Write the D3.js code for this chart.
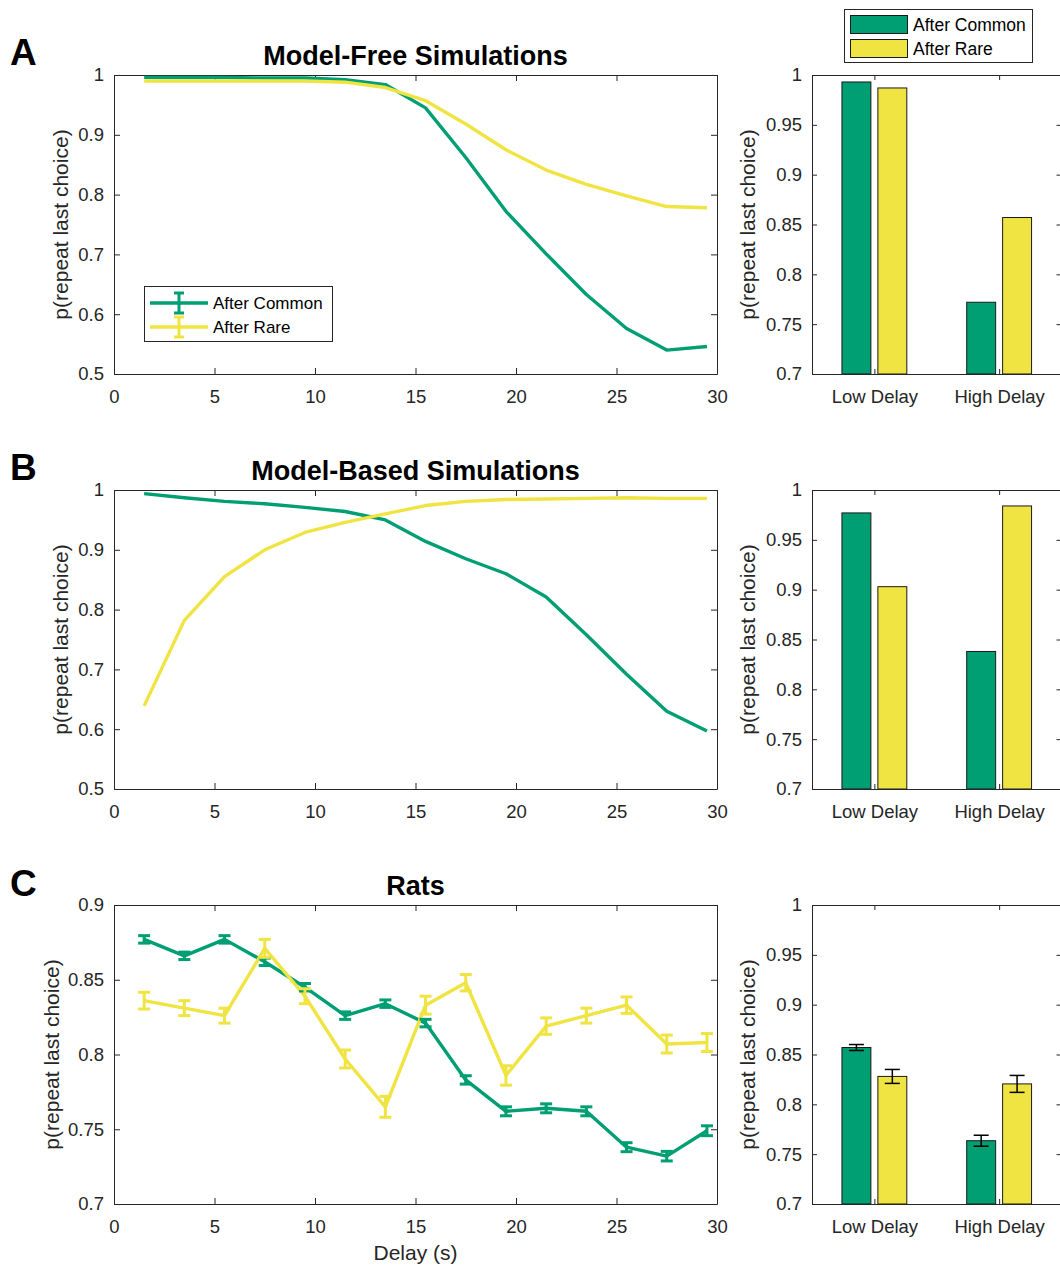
<!DOCTYPE html>
<html>
<head>
<meta charset="utf-8">
<script src="https://cdn.jsdelivr.net/npm/d3@7"></script>
<style>
  html, body { margin: 0; padding: 0; background: #fff; }
  svg { display: block; }
</style>
</head>
<body>
<script>
// ---------------- DATA ----------------
const delays = [1.5, 3.5, 5.5, 7.5, 9.5, 11.5, 13.5, 15.5, 17.5, 19.5, 21.5, 23.5, 25.5, 27.5, 29.5];

const mfCommon = [0.996, 0.996, 0.996, 0.995, 0.995, 0.992, 0.984, 0.945, 0.862, 0.772, 0.701, 0.633, 0.576, 0.540, 0.546];
const mfRare   = [0.990, 0.990, 0.990, 0.990, 0.990, 0.988, 0.979, 0.957, 0.918, 0.875, 0.841, 0.817, 0.798, 0.780, 0.778];

const mbCommon = [0.994, 0.987, 0.981, 0.977, 0.971, 0.964, 0.950, 0.914, 0.885, 0.860, 0.821, 0.758, 0.692, 0.630, 0.597];
const mbRare   = [0.639, 0.782, 0.855, 0.900, 0.929, 0.946, 0.960, 0.974, 0.981, 0.984, 0.985, 0.986, 0.987, 0.986, 0.986];

const ratCommon    = [0.877, 0.866, 0.877, 0.862, 0.845, 0.826, 0.834, 0.821, 0.783, 0.762, 0.764, 0.762, 0.738, 0.732, 0.749];
const ratCommonErr = [0.0025, 0.0025, 0.0025, 0.0025, 0.0025, 0.0025, 0.0025, 0.0025, 0.0028, 0.003, 0.003, 0.003, 0.003, 0.0032, 0.0033];
const ratRare      = [0.836, 0.831, 0.826, 0.871, 0.839, 0.797, 0.765, 0.833, 0.848, 0.786, 0.819, 0.826, 0.833, 0.807, 0.808];
const ratRareErr   = [0.0056, 0.005, 0.005, 0.006, 0.005, 0.006, 0.007, 0.006, 0.0055, 0.0065, 0.0055, 0.005, 0.0055, 0.006, 0.006];

const barCategories = ["Low Delay", "High Delay"];
const mfBarCommon = [0.993, 0.772];
const mfBarRare   = [0.987, 0.857];
const mbBarCommon = [0.977, 0.838];
const mbBarRare   = [0.903, 0.984];
const ratBarCommon    = [0.857, 0.7635];
const ratBarCommonErr = [0.003, 0.0055];
const ratBarRare      = [0.828, 0.8205];
const ratBarRareErr   = [0.007, 0.0085];

const seriesNames = ["After Common", "After Rare"];
const panelLetters = ["A", "B", "C"];
const panelTitles = ["Model-Free Simulations", "Model-Based Simulations", "Rats"];
const xTicks = [0, 5, 10, 15, 20, 25, 30];
const yTicksSim = [0.5, 0.6, 0.7, 0.8, 0.9, 1];
const yTicksRat = [0.7, 0.75, 0.8, 0.85, 0.9];
const yTicksBar = [0.7, 0.75, 0.8, 0.85, 0.9, 0.95, 1];
const yLabel = "p(repeat last choice)";
const xLabel = "Delay (s)";

// ---------------- STYLE ----------------
const GREEN = "#009E73";
const YELLOW = "#F0E442";
const AXC = "#262626";
const FONT = '"Liberation Sans", Arial, Helvetica, sans-serif';
const TICKFS = 18.5;

const svg = d3.select("body").append("svg")
  .attr("width", 1060).attr("height", 1268)
  .style("font-family", FONT);
svg.append("rect").attr("width", 1060).attr("height", 1268).attr("fill", "#fff");

const fmt = d => String(+(+d).toFixed(2));

function styleAxis(g) {
  g.select(".domain").attr("stroke", AXC).attr("stroke-width", 1);
  g.selectAll(".tick line").attr("stroke", AXC).attr("stroke-width", 1);
  g.selectAll(".tick text").attr("fill", AXC).style("font-size", TICKFS + "px").style("font-family", FONT);
}

function frame(xs, ys, xTickVals, yTickVals, xFmt, yFmt, tickLen) {
  const [xa, xb] = xs.range();
  const [ya, yb] = ys.range();
  svg.append("g").attr("transform", `translate(${xa},0)`)
    .call(d3.axisLeft(ys).tickValues(yTickVals).tickFormat(yFmt).tickSizeInner(-tickLen).tickSizeOuter(0).tickPadding(10))
    .call(styleAxis);
  svg.append("g").attr("transform", `translate(0,${ya})`)
    .call(d3.axisBottom(xs).tickValues(xTickVals).tickFormat(xFmt).tickSizeInner(-tickLen).tickSizeOuter(0).tickPadding(16))
    .call(styleAxis);
  svg.append("g").attr("transform", `translate(${xb},0)`)
    .call(d3.axisRight(ys).tickValues(yTickVals).tickFormat("").tickSizeInner(-tickLen).tickSizeOuter(0))
    .call(styleAxis);
  svg.append("g").attr("transform", `translate(0,${yb})`)
    .call(d3.axisTop(xs).tickValues(xTickVals).tickFormat("").tickSizeInner(-tickLen).tickSizeOuter(0))
    .call(styleAxis);
}

function yLab(x, ys) {
  const [ya, yb] = ys.range();
  svg.append("text")
    .attr("transform", `translate(${x},${(ya + yb) / 2}) rotate(-90)`)
    .attr("text-anchor", "middle")
    .attr("fill", AXC)
    .style("font-size", "21px")
    .text(yLabel);
}

const lineLeft = 114, lineRight = 717;
const barLeft = 812, barRight = 1061.5;
const panelY = [[374, 75], [789, 490], [1204, 905]];
const letterY = [65, 480, 896];
const titleY = [65, 480, 895];
const yLabX = [68, 68, 59];

const lineData = [
  { c: mfCommon, r: mfRare, dom: [0.5, 1], ticks: yTicksSim },
  { c: mbCommon, r: mbRare, dom: [0.5, 1], ticks: yTicksSim },
  { c: ratCommon, r: ratRare, ce: ratCommonErr, re: ratRareErr, dom: [0.7, 0.9], ticks: yTicksRat }
];
const barData = [
  { c: mfBarCommon, r: mfBarRare },
  { c: mbBarCommon, r: mbBarRare },
  { c: ratBarCommon, r: ratBarRare, ce: ratBarCommonErr, re: ratBarRareErr }
];

lineData.forEach((pd, i) => {
  const [yb, yt] = panelY[i];
  const xs = d3.scaleLinear().domain([0, 30]).range([lineLeft, lineRight]);
  const ys = d3.scaleLinear().domain(pd.dom).range([yb, yt]);

  svg.append("text").attr("x", 10).attr("y", letterY[i])
    .style("font-size", "37px").style("font-weight", "bold").attr("fill", "#000")
    .text(panelLetters[i]);
  svg.append("text").attr("x", (lineLeft + lineRight) / 2).attr("y", titleY[i])
    .attr("text-anchor", "middle").style("font-size", "27px").style("font-weight", "bold").attr("fill", "#000")
    .text(panelTitles[i]);

  frame(xs, ys, xTicks, pd.ticks, d3.format("d"), fmt, 6);
  yLab(yLabX[i], ys);

  const line = d3.line().x((d, j) => xs(delays[j])).y(d => ys(d));
  [[pd.c, GREEN], [pd.r, YELLOW]].forEach(([vals, col]) => {
    svg.append("path").datum(vals).attr("d", line)
      .attr("fill", "none").attr("stroke", col).attr("stroke-width", 3.4)
      .attr("stroke-linejoin", "round");
  });
  [[pd.c, GREEN, pd.ce], [pd.r, YELLOW, pd.re]].forEach(([vals, col, errs]) => {
    if (!errs) return;
    const g = svg.append("g").attr("stroke", col).attr("stroke-width", 3);
    vals.forEach((v, j) => {
      const x = xs(delays[j]);
      const lo = ys(v - errs[j]), hi = ys(v + errs[j]);
      g.append("line").attr("x1", x).attr("x2", x).attr("y1", lo).attr("y2", hi);
      g.append("line").attr("x1", x - 6).attr("x2", x + 6).attr("y1", lo).attr("y2", lo);
      g.append("line").attr("x1", x - 6).attr("x2", x + 6).attr("y1", hi).attr("y2", hi);
    });
  });

  if (i === 2) {
    svg.append("text").attr("x", (lineLeft + lineRight) / 2).attr("y", 1260)
      .attr("text-anchor", "middle").attr("fill", AXC).style("font-size", "21px").text(xLabel);
  }
});

// legend for panel A (line)
{
  const lg = svg.append("g");
  lg.append("rect").attr("x", 144.5).attr("y", 286.5).attr("width", 188).attr("height", 55)
    .attr("fill", "#fff").attr("stroke", AXC).attr("stroke-width", 1);
  [[GREEN, 303], [YELLOW, 327]].forEach(([col, y], k) => {
    lg.append("line").attr("x1", 150).attr("x2", 208).attr("y1", y).attr("y2", y)
      .attr("stroke", col).attr("stroke-width", 3.4);
    lg.append("line").attr("x1", 179).attr("x2", 179).attr("y1", y - 10).attr("y2", y + 10)
      .attr("stroke", col).attr("stroke-width", 3);
    lg.append("line").attr("x1", 174).attr("x2", 184).attr("y1", y - 10).attr("y2", y - 10)
      .attr("stroke", col).attr("stroke-width", 3);
    lg.append("line").attr("x1", 174).attr("x2", 184).attr("y1", y + 10).attr("y2", y + 10)
      .attr("stroke", col).attr("stroke-width", 3);
    lg.append("text").attr("x", 213).attr("y", y + 6).attr("fill", "#000")
      .style("font-size", "17px").text(seriesNames[k]);
  });
}

// bar charts
barData.forEach((bd, i) => {
  const [yb, yt] = panelY[i];
  const xs = d3.scaleLinear().domain([0.5, 2.5]).range([barLeft, barRight]);
  const ys = d3.scaleLinear().domain([0.7, 1]).range([yb, yt]);
  const catX = barCategories.map((c, k) => k + 1);
  const catFmt = d => barCategories[d - 1];

  const off = 0.144, bw = 0.232;
  const series = [[bd.c, GREEN, bd.ce, -off], [bd.r, YELLOW, bd.re, off]];
  series.forEach(([vals, col, errs, o]) => {
    vals.forEach((v, k) => {
      const cx = catX[k] + o;
      svg.append("rect")
        .attr("x", xs(cx - bw / 2)).attr("width", xs(cx + bw / 2) - xs(cx - bw / 2))
        .attr("y", ys(v)).attr("height", ys(0.7) - ys(v))
        .attr("fill", col).attr("stroke", "#1a1a1a").attr("stroke-width", 1);
    });
  });
  frame(xs, ys, catX, yTicksBar, catFmt, fmt, 5);
  yLab(755, ys);
  series.forEach(([vals, col, errs, o]) => {
    if (!errs) return;
    const g = svg.append("g").attr("stroke", "#000").attr("stroke-width", 1.5);
    vals.forEach((v, k) => {
      const x = xs(catX[k] + o);
      const lo = ys(v - errs[k]), hi = ys(v + errs[k]);
      g.append("line").attr("x1", x).attr("x2", x).attr("y1", lo).attr("y2", hi);
      g.append("line").attr("x1", x - 7.5).attr("x2", x + 7.5).attr("y1", lo).attr("y2", lo);
      g.append("line").attr("x1", x - 7.5).attr("x2", x + 7.5).attr("y1", hi).attr("y2", hi);
    });
  });
});

// legend for bar chart A
{
  const lg = svg.append("g");
  lg.append("rect").attr("x", 844.5).attr("y", 9.5).attr("width", 188).attr("height", 53)
    .attr("fill", "#fff").attr("stroke", AXC).attr("stroke-width", 1);
  [[GREEN, 15], [YELLOW, 39]].forEach(([col, y], k) => {
    lg.append("rect").attr("x", 850.5).attr("y", y + 0.5).attr("width", 57).attr("height", 18)
      .attr("fill", col).attr("stroke", "#1a1a1a").attr("stroke-width", 1);
    lg.append("text").attr("x", 913).attr("y", y + 15.5).attr("fill", "#000")
      .style("font-size", "17.5px").text(seriesNames[k]);
  });
}
</script>
</body>
</html>
